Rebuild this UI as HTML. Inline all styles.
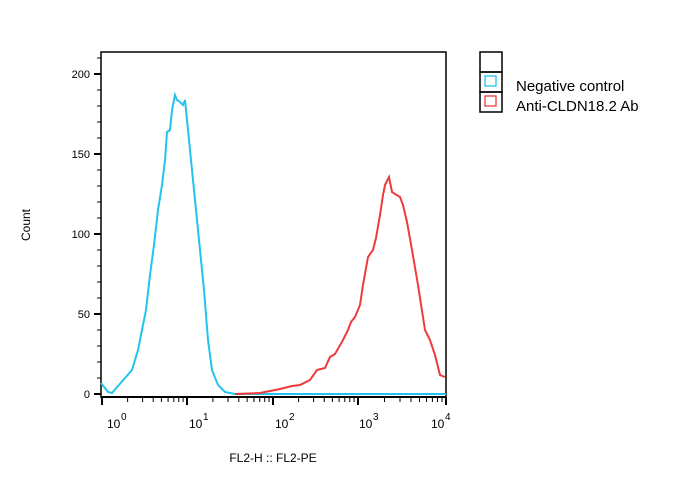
<!DOCTYPE html>
<html><head><style>body{margin:0;background:#fff;}svg{display:block}</style></head><body>
<svg width="678" height="492" xmlns="http://www.w3.org/2000/svg" font-family="Liberation Sans, sans-serif">
<rect x="101" y="52" width="345" height="345" fill="none" stroke="#000" stroke-width="1.5"/>
<line x1="101" y1="397" x2="446" y2="397" stroke="#000" stroke-width="2"/>
<g stroke="#000" stroke-width="2">
<line x1="94" y1="74" x2="101" y2="74"/><line x1="94" y1="154" x2="101" y2="154"/><line x1="94" y1="234" x2="101" y2="234"/><line x1="94" y1="314" x2="101" y2="314"/><line x1="94" y1="394" x2="101" y2="394"/>
</g>
<g stroke="#000" stroke-width="1">
<line x1="97" y1="58" x2="101" y2="58"/><line x1="97" y1="90" x2="101" y2="90"/><line x1="97" y1="106" x2="101" y2="106"/><line x1="97" y1="122" x2="101" y2="122"/><line x1="97" y1="138" x2="101" y2="138"/>
<line x1="97" y1="170" x2="101" y2="170"/><line x1="97" y1="186" x2="101" y2="186"/><line x1="97" y1="202" x2="101" y2="202"/><line x1="97" y1="218" x2="101" y2="218"/>
<line x1="97" y1="250" x2="101" y2="250"/><line x1="97" y1="266" x2="101" y2="266"/><line x1="97" y1="282" x2="101" y2="282"/><line x1="97" y1="298" x2="101" y2="298"/>
<line x1="97" y1="330" x2="101" y2="330"/><line x1="97" y1="346" x2="101" y2="346"/><line x1="97" y1="362" x2="101" y2="362"/><line x1="97" y1="378" x2="101" y2="378"/>
</g>
<g font-size="11" text-anchor="end" fill="#000">
<text x="90" y="78">200</text><text x="90" y="158">150</text><text x="90" y="238">100</text><text x="90" y="318">50</text><text x="90" y="398">0</text>
</g>
<g stroke="#000" stroke-width="2">
<line x1="102" y1="397" x2="102" y2="405"/><line x1="187" y1="397" x2="187" y2="405"/><line x1="273" y1="397" x2="273" y2="405"/><line x1="358" y1="397" x2="358" y2="405"/><line x1="446" y1="397" x2="446" y2="405"/>
</g>
<g stroke="#000" stroke-width="1">
<line x1="127.6" y1="397" x2="127.6" y2="402"/><line x1="142.6" y1="397" x2="142.6" y2="402"/><line x1="153.2" y1="397" x2="153.2" y2="402"/><line x1="161.4" y1="397" x2="161.4" y2="402"/><line x1="168.1" y1="397" x2="168.1" y2="402"/><line x1="173.8" y1="397" x2="173.8" y2="402"/><line x1="178.8" y1="397" x2="178.8" y2="402"/><line x1="183.1" y1="397" x2="183.1" y2="402"/>
<line x1="212.9" y1="397" x2="212.9" y2="402"/><line x1="228" y1="397" x2="228" y2="402"/><line x1="238.8" y1="397" x2="238.8" y2="402"/><line x1="247.1" y1="397" x2="247.1" y2="402"/><line x1="253.9" y1="397" x2="253.9" y2="402"/><line x1="259.7" y1="397" x2="259.7" y2="402"/><line x1="264.7" y1="397" x2="264.7" y2="402"/><line x1="269" y1="397" x2="269" y2="402"/>
<line x1="298.6" y1="397" x2="298.6" y2="402"/><line x1="313.6" y1="397" x2="313.6" y2="402"/><line x1="324.2" y1="397" x2="324.2" y2="402"/><line x1="332.4" y1="397" x2="332.4" y2="402"/><line x1="339.1" y1="397" x2="339.1" y2="402"/><line x1="344.8" y1="397" x2="344.8" y2="402"/><line x1="349.8" y1="397" x2="349.8" y2="402"/><line x1="354.1" y1="397" x2="354.1" y2="402"/>
<line x1="384.5" y1="397" x2="384.5" y2="402"/><line x1="400" y1="397" x2="400" y2="402"/><line x1="411" y1="397" x2="411" y2="402"/><line x1="419.5" y1="397" x2="419.5" y2="402"/><line x1="426.5" y1="397" x2="426.5" y2="402"/><line x1="432.4" y1="397" x2="432.4" y2="402"/><line x1="437.5" y1="397" x2="437.5" y2="402"/><line x1="442" y1="397" x2="442" y2="402"/>
</g>
<g font-size="12" fill="#000">
<text x="107" y="428">10</text><text x="121" y="420" font-size="10">0</text>
<text x="189" y="428">10</text><text x="203" y="420" font-size="10">1</text>
<text x="275" y="428">10</text><text x="289" y="420" font-size="10">2</text>
<text x="359" y="428">10</text><text x="373" y="420" font-size="10">3</text>
<text x="431" y="428">10</text><text x="445" y="420" font-size="10">4</text>
</g>
<text x="273" y="462" font-size="12" text-anchor="middle">FL2-H :: FL2-PE</text>
<text x="30" y="225" font-size="12" text-anchor="middle" transform="rotate(-90 30 225)">Count</text>
<polyline fill="none" stroke="#22c3ee" stroke-width="2" points="101,383 108,392 112,393 118,386 125,378 132,370 138,350 142,330 146,310 150,275 154,245 158,210 162,185 165,160 167,132 170,130 172,110 175,95 177,100 180,102 183,105 185,100 188,130 192,170 196,210 200,250 204,290 208,340 212,370 218,385 225,392 235,394 446,394"/>
<polyline fill="none" stroke="#ee3a3a" stroke-width="2" points="235,394 260,393 280,389 292,386 300,385 310,380 317,370 325,368 330,357 335,354 343,340 348,330 351,322 355,317 360,305 363,285 368,257 373,250 376,238 380,215 383,195 385,185 389,177 392,192 395,194 400,197 403,205 407,222 412,250 418,285 425,330 430,340 435,355 440,375 445,377"/>
<g fill="none" stroke="#000" stroke-width="1.5">
<rect x="480" y="52" width="22" height="20"/><rect x="480" y="72" width="22" height="20"/><rect x="480" y="92" width="22" height="20"/>
</g>
<rect x="485" y="76" width="11" height="10" fill="none" stroke="#22c3ee" stroke-width="1.3"/>
<rect x="485" y="96" width="11" height="10" fill="none" stroke="#ee3a3a" stroke-width="1.3"/>
<g font-size="15" fill="#000"><text x="516" y="91">Negative control</text><text x="516" y="111">Anti-CLDN18.2 Ab</text></g>
</svg>
</body></html>
